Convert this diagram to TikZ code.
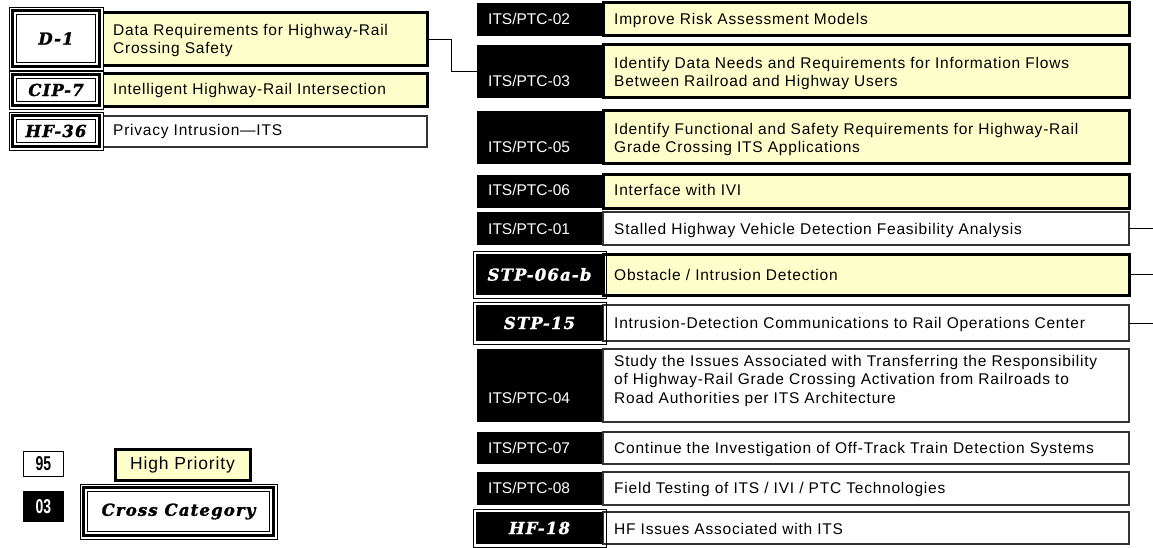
\documentclass[tikz,border=0pt]{standalone}
\usepackage{fontspec}
\usepackage{graphicx}
\setmainfont{Liberation Sans}
\newfontfamily\descfont{Liberation Sans}[LetterSpace=5]
\newfontfamily\heavyfont{DejaVu Serif}[LetterSpace=7, BoldItalicFeatures={FakeBold=1.5}]
\definecolor{hiyel}{RGB}{255,255,204}
\tikzset{
  hibox/.style={draw=black, line width=3pt, fill=hiyel, inner sep=0pt, outer sep=0pt},
  lobox/.style={draw=black!80, line width=1.2pt, fill=white, inner sep=0pt, outer sep=0pt},
  codebox/.style={fill=black, inner sep=0pt, outer sep=0pt},
  thinframe/.style={draw=black, line width=0.8pt, inner sep=0pt, outer sep=0pt},
  desc/.style={font=\descfont\fontsize{15.5}{18.5}\selectfont, align=left, inner sep=0pt, anchor=base west, text=black},
  codetxt/.style={font=\fontsize{15.5}{18}\selectfont, text=white, inner sep=0pt, anchor=base west},
  heavy/.style={font=\heavyfont\bfseries\itshape\fontsize{16.5}{18}\selectfont, inner sep=0pt},
  legnum/.style={font=\bfseries\fontsize{20}{22}\selectfont, inner sep=0pt},
  conn/.style={draw=black, line width=1pt},
}
% plain row: id, top, height, desc style, code, code baseline, desc last-line baseline, desc text
\newcommand\itsrow[8]{%
  \node[codebox, minimum width=126, minimum height=#3, anchor=north west] (c#1) at (477,#2) {};
  \node[#4, minimum width=526, minimum height=#3, anchor=north west] (d#1) at (603,#2) {};
  \node[codetxt] (c#1t) at (488,#6) {#5};
  \node[desc] (d#1t) at (614,#7) {#8};
}
% cross-category row: id, frame top, frame height, desc style, code, desc baseline, desc text
\newcommand\heavyrow[7]{%
  \node[#4, minimum width=526, minimum height=#3-6, anchor=north west] (d#1) at (603,#2+3) {};
  \node[thinframe, minimum width=133, minimum height=#3, anchor=north west] (f#1) at (473,#2) {};
  \node[codebox, minimum width=127, minimum height=#3-6, anchor=north west] (c#1) at (476,#2+3) {};
  \node[heavy, text=white] (c#1t) at (c#1.center) {#5};
  \node[desc] (d#1t) at (614,#6) {#7};
}
% triple frame: name, x, y, w, h
\newcommand\xframe[5]{%
  \node[thinframe, fill=white, minimum width=#4, minimum height=#5, anchor=north west] (#1o) at (#2,#3) {};
  \node[draw=black, line width=3pt, fill=white, inner sep=0pt, outer sep=0pt, minimum width=#4-7, minimum height=#5-7, anchor=north west] (#1m) at (#2+3.5,#3+3.5) {};
  \node[thinframe, minimum width=#4-15, minimum height=#5-15, anchor=north west] (#1i) at (#2+7.5,#3+7.5) {};
}
\begin{document}
\begin{tikzpicture}[x=1pt,y=-1pt]
\useasboundingbox[fill=white] (0,0) rectangle (1153,548);
\coordinate (redge) at (1153,0);

% ---- left group ----
\node[hibox, minimum width=325, minimum height=53, anchor=north west] (dD1) at (102,13) {};
\xframe{fD1}{9}{7}{94}{63}
\node[heavy] (cD1t) at (fD1o.center) {D-1};
\node[desc] (dD1t) at (113,54) {Data Requirements for Highway-Rail\\Crossing Safety};

\node[hibox, minimum width=325, minimum height=33, anchor=north west] (dCIP) at (102,74) {};
\xframe{fCIP}{9}{71}{94}{38}
\node[heavy] (cCIPt) at (fCIPo.center) {CIP-7};
\node[desc] (dCIPt) at (113,95) {Intelligent Highway-Rail Intersection};

\node[lobox, minimum width=325, minimum height=31, anchor=north west] (dHF36) at (102,116) {};
\xframe{fHF36}{9}{112}{94}{38}
\node[heavy] (cHF36t) at (fHF36o.center) {HF-36};
\node[desc] (dHF36t) at (113,136) {Privacy Intrusion—ITS};

% ---- right column ----
\itsrow{02}{3}{33}{hibox}{ITS/PTC-02}{25}{25}{Improve Risk Assessment Models}
\itsrow{03}{45}{53}{hibox}{ITS/PTC-03}{87}{87}{Identify Data Needs and Requirements for Information Flows\\Between Railroad and Highway Users}
\itsrow{05}{111}{53}{hibox}{ITS/PTC-05}{153}{153}{Identify Functional and Safety Requirements for Highway-Rail\\Grade Crossing ITS Applications}
\itsrow{06}{175}{33}{hibox}{ITS/PTC-06}{196}{196}{Interface with IVI}
\itsrow{01}{212}{33}{lobox}{ITS/PTC-01}{234}{234}{Stalled Highway Vehicle Detection Feasibility Analysis}
\heavyrow{S06}{251}{47}{hibox}{STP-06a-b}{280}{Obstacle / Intrusion Detection}
\heavyrow{S15}{302}{42}{lobox}{STP-15}{328}{Intrusion-Detection Communications to Rail Operations Center}
\itsrow{04}{349}{73}{lobox}{ITS/PTC-04}{403}{403}{Study the Issues Associated with Transferring the Responsibility\\of Highway-Rail Grade Crossing Activation from Railroads to\\Road Authorities per ITS Architecture}
\itsrow{07}{432}{32}{lobox}{ITS/PTC-07}{453}{453}{Continue the Investigation of Off-Track Train Detection Systems}
\itsrow{08}{472}{33}{lobox}{ITS/PTC-08}{493}{493}{Field Testing of ITS / IVI / PTC Technologies}
\heavyrow{H18}{509}{38}{lobox}{HF-18}{534}{HF Issues Associated with ITS}

% ---- connectors ----
\draw[conn] (dD1.east) -- ++(24,0) |- (c03.west);
\draw[conn] (d01.east) -- (d01.east -| redge);
\draw[conn] (dS06.east) -- (dS06.east -| redge);
\draw[conn] (dS15.east) -- (dS15.east -| redge);

% ---- legend ----
\node[draw=black, line width=1pt, fill=white, minimum width=40, minimum height=25, anchor=north west, inner sep=0pt] (l95) at (23,451) {};
\node[legnum] (l95t) at (l95.center) {\scalebox{0.7}[1]{95}};
\node[codebox, minimum width=41, minimum height=31, anchor=north west] (l03) at (23,491) {};
\node[legnum, text=white] (l03t) at (l03.center) {\scalebox{0.7}[1]{03}};
\node[hibox, minimum width=135, minimum height=31, anchor=north west,
      font=\descfont\fontsize{17.5}{20}\selectfont] (lhp) at (115,449) {High Priority};
\xframe{lcc}{80}{484}{197}{55}
\node[heavy] (lcct) at (lcco.center) {Cross Category};
\end{tikzpicture}
\end{document}
